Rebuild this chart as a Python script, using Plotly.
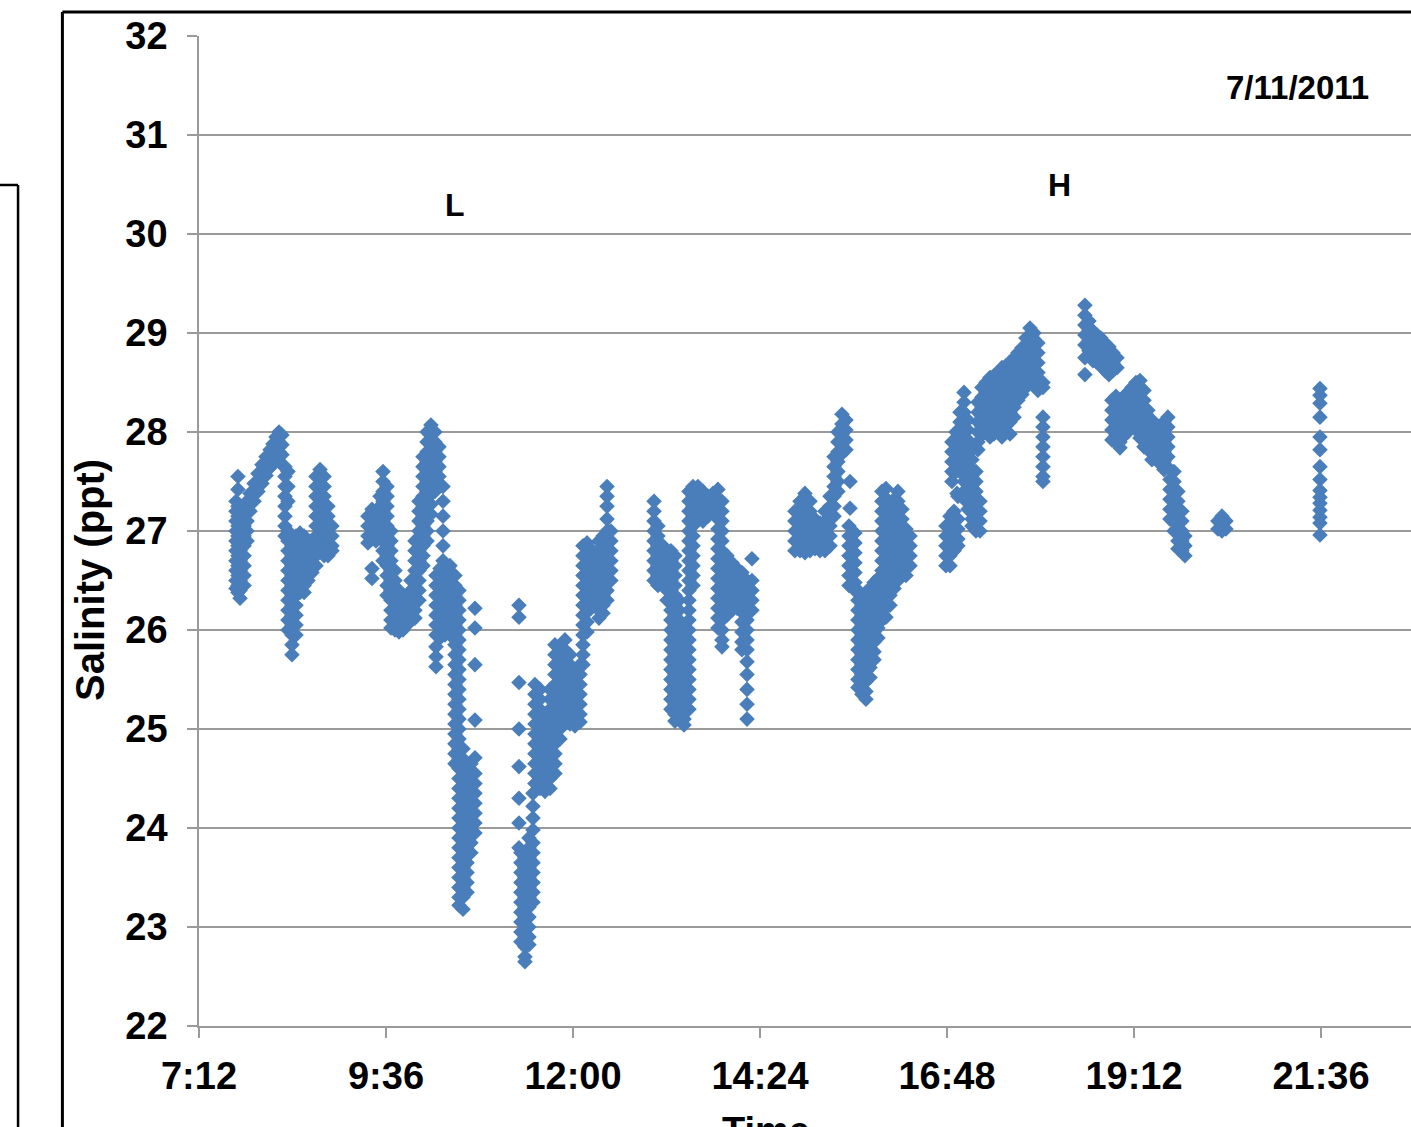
import plotly.graph_objects as go

# ---------------- data (time in minutes after midnight, salinity in ppt) ----------------
# Each cluster: sample times and, for each time, the salinity readings logged at that time.
c1_time = [460.5, 462.0, 463.6, 466.7, 469.0, 471.3, 474.4, 477.4, 480.5, 483.6, 486.7, 489.0,
           491.3, 493.6, 495.9, 498.2, 500.5, 503.6, 506.7, 509.8, 512.9, 515.9, 519.0, 522.1,
           525.2, 528.3, 531.3, 534.4]
c1_sal = [
    [27.3, 27.2, 27.1, 27.0, 26.9, 26.8, 26.7, 26.6, 26.5, 26.42],
    [27.55, 27.42, 27.25, 27.15, 27.05, 26.95, 26.85, 26.75, 26.65, 26.55, 26.45, 26.38],
    [27.2, 27.1, 27.0, 26.9, 26.8, 26.7, 26.6, 26.5, 26.4, 26.32],
    [27.15, 27.05, 26.95, 26.85, 26.75, 26.65, 26.55, 26.45],
    [27.3, 27.2, 27.1, 27.0, 26.9],
    [27.38, 27.28, 27.2],
    [27.48, 27.38, 27.3],
    [27.58, 27.48, 27.4],
    [27.67, 27.57, 27.48],
    [27.75, 27.65, 27.56],
    [27.82, 27.72, 27.64],
    [27.88, 27.78, 27.7],
    [27.95, 27.85, 27.76],
    [28.0, 27.9, 27.8],
    [27.97, 27.87, 27.77, 27.67],
    [27.65, 27.55, 27.45, 27.35, 27.25, 27.15, 27.05, 26.95],
    [27.6, 27.45, 27.3, 27.0, 26.9, 26.8, 26.7, 26.6, 26.5, 26.4, 26.3, 26.2, 26.1, 26.0],
    [26.95, 26.85, 26.75, 26.65, 26.55, 26.45, 26.35, 26.25, 26.15, 26.05, 25.95, 25.85, 25.75],
    [26.95, 26.85, 26.75, 26.65, 26.55, 26.45, 26.35, 26.25, 26.15, 26.05, 25.95],
    [26.98, 26.88, 26.78, 26.68, 26.58, 26.48, 26.38],
    [26.95, 26.85, 26.75, 26.65, 26.55, 26.45, 26.38],
    [26.9, 26.8, 26.7, 26.6, 26.5],
    [26.88, 26.78, 26.68, 26.58],
    [27.55, 27.45, 27.35, 27.25, 27.15, 27.05, 26.95, 26.85, 26.75, 26.65],
    [27.62, 27.52, 27.42, 27.32, 27.22, 27.12, 27.02, 26.92, 26.82],
    [27.55, 27.45, 27.35, 27.25, 27.15, 27.05, 26.95, 26.85, 26.75],
    [27.25, 27.15, 27.05, 26.95, 26.85, 26.75],
    [27.05, 26.95, 26.85, 26.8],
]

c2_time = [562.1, 565.2, 568.3, 571.4, 573.7, 576.8, 579.8, 582.9, 586.0, 589.1, 592.2, 595.2,
           598.3, 601.4, 604.5, 607.6, 610.6, 613.7, 614.5, 616.8, 617.6, 619.9, 621.4, 625.3,
           629.1, 632.2, 635.3, 638.4, 641.4, 644.5]
c2_sal = [
    [27.15, 27.05, 26.95, 26.88],
    [27.22, 27.12, 27.02, 26.92, 26.62, 26.52],
    [27.2, 27.1, 27.0, 26.9],
    [27.35, 27.25, 27.15, 27.05, 26.95],
    [27.6, 27.5, 27.4, 27.3, 27.2, 27.1, 27.0, 26.9, 26.8, 26.7],
    [27.45, 27.35, 27.25, 27.15, 27.05, 26.95, 26.85, 26.75, 26.65, 26.55, 26.45, 26.35],
    [27.0, 26.9, 26.8, 26.7, 26.6, 26.5, 26.4, 26.3, 26.2, 26.1, 26.02],
    [26.6, 26.5, 26.4, 26.3, 26.2, 26.1, 26.0],
    [26.4, 26.3, 26.2, 26.1, 25.98],
    [26.3, 26.2, 26.1, 26.0],
    [26.35, 26.25, 26.15, 26.05],
    [26.5, 26.4, 26.3, 26.2, 26.1],
    [26.9, 26.8, 26.7, 26.6, 26.5, 26.4, 26.3, 26.2, 26.12],
    [27.3, 27.2, 27.1, 27.0, 26.9, 26.8, 26.7, 26.6, 26.5, 26.4, 26.3],
    [27.75, 27.65, 27.55, 27.45, 27.35, 27.25, 27.15, 27.05, 26.95, 26.85, 26.75, 26.65],
    [28.0, 27.9, 27.8, 27.7, 27.6, 27.5, 27.4, 27.3, 27.2, 27.1, 27.0, 26.9],
    [28.07, 27.97, 27.87, 27.77, 27.67, 27.57, 27.47, 27.37, 27.27, 27.17],
    [28.0, 27.9, 27.8, 27.7, 27.6, 27.5, 27.4],
    [26.55, 26.45, 26.35, 26.25, 26.15, 26.05, 25.95, 25.83, 25.73, 25.63],
    [27.85, 27.75, 27.65, 27.55],
    [26.62, 26.52, 26.42, 26.32, 26.22, 26.12, 26.02, 25.92],
    [27.45, 27.3, 27.15, 27.0, 26.85, 26.7],
    [26.55, 26.45, 26.35, 26.25, 26.15, 26.05, 25.95],
    [26.65, 26.55, 26.45, 26.35, 26.25, 26.15, 26.05, 25.95],
    [26.55, 26.45, 26.35, 26.25, 26.15, 26.05, 25.95, 25.85, 25.75, 25.65, 25.55, 25.45, 25.35,
     25.25, 25.15, 25.05, 24.95, 24.85, 24.75, 24.65],
    [26.4, 26.3, 26.2, 26.1, 26.0, 25.9, 25.8, 25.7, 25.6, 25.5, 25.4, 25.3, 25.2, 25.1, 25.0,
     24.9, 24.8, 24.7, 24.6, 24.5, 24.4, 24.3, 24.2, 24.1, 24.0, 23.9, 23.8, 23.7, 23.6, 23.5,
     23.4, 23.3, 23.22],
    [24.8, 24.7, 24.6, 24.5, 24.4, 24.3, 24.2, 24.1, 24.0, 23.9, 23.8, 23.7, 23.6, 23.5, 23.4,
     23.3, 23.18],
    [24.55, 24.45, 24.35, 24.25, 24.15, 24.05, 23.95, 23.85, 23.75, 23.65, 23.55, 23.45, 23.35],
    [24.65, 24.55, 24.45, 24.35, 24.25, 24.15, 24.05, 23.95, 23.85, 23.75],
    [26.22, 26.02, 25.65, 25.09, 24.71, 24.55, 24.45, 24.35, 24.25, 24.15, 24.05, 23.95],
]

c3_time = [678.4, 679.9, 683.0, 686.1, 689.2, 690.7, 694.6, 698.4, 702.3, 706.1, 710.0, 713.8,
           717.7, 721.5, 725.4, 727.7, 730.8, 733.8, 736.9, 740.0, 743.1, 746.2, 749.2]
c3_sal = [
    [26.25, 26.13, 25.47, 25.0, 24.62, 24.3, 24.05, 23.8],
    [23.75, 23.65, 23.55, 23.45, 23.35, 23.25, 23.15, 23.05, 22.95, 22.85],
    [23.7, 23.6, 23.5, 23.4, 23.3, 23.2, 23.1, 23.0, 22.9, 22.8, 22.7, 22.65],
    [23.9, 23.8, 23.7, 23.6, 23.5, 23.4, 23.3, 23.2, 23.1, 23.0, 22.9, 22.82],
    [24.35, 24.22, 24.1, 23.98, 23.85, 23.75, 23.65, 23.55, 23.45, 23.35, 23.25],
    [25.45, 25.35, 25.25, 25.15, 25.05, 24.95, 24.85, 24.75, 24.65, 24.55, 24.45],
    [25.4, 25.3, 25.2, 25.1, 25.0, 24.9, 24.8, 24.7, 24.6, 24.5, 24.4],
    [25.15, 25.05, 24.95, 24.85, 24.75, 24.65, 24.55, 24.45, 24.37],
    [25.4, 25.3, 25.2, 25.1, 25.0, 24.9, 24.8, 24.7, 24.6, 24.5, 24.4],
    [25.85, 25.75, 25.65, 25.55, 25.45, 25.35, 25.25, 25.15, 25.05, 24.95, 24.85, 24.75, 24.65,
     24.55],
    [25.8, 25.7, 25.6, 25.5, 25.4, 25.3, 25.2, 25.1, 25.0, 24.9],
    [25.9, 25.8, 25.7, 25.6, 25.5, 25.4, 25.3, 25.2, 25.1],
    [25.75, 25.65, 25.55, 25.45, 25.35, 25.25, 25.15, 25.05],
    [25.6, 25.5, 25.4, 25.3, 25.2, 25.1, 25.03],
    [25.65, 25.55, 25.45, 25.35, 25.25, 25.15, 25.07],
    [26.85, 26.75, 26.65, 26.55, 26.45, 26.35, 26.25, 26.15, 26.05, 25.95, 25.85, 25.75, 25.65],
    [26.88, 26.78, 26.68, 26.58, 26.48, 26.38, 26.28, 26.18, 26.08, 25.98],
    [26.82, 26.72, 26.62, 26.52, 26.42, 26.32, 26.22],
    [26.75, 26.65, 26.55, 26.45, 26.35, 26.25],
    [26.9, 26.8, 26.7, 26.6, 26.5, 26.4, 26.3, 26.2, 26.12],
    [26.95, 26.85, 26.75, 26.65, 26.55, 26.45, 26.35, 26.25, 26.17],
    [27.45, 27.35, 27.25, 27.12, 27.0, 26.9, 26.8, 26.7, 26.6, 26.5, 26.4, 26.3],
    [27.0, 26.9, 26.8, 26.7, 26.6, 26.5],
]

c4_time = [782.4, 785.4, 789.3, 792.4, 795.4, 798.5, 801.6, 805.5, 809.3, 812.4, 816.2, 820.1,
           823.9, 827.8, 831.6, 834.7, 838.6, 842.4, 846.3, 850.1, 854.0, 857.8]
c4_sal = [
    [27.3, 27.2, 27.1, 27.0, 26.9, 26.8, 26.7, 26.6, 26.5],
    [27.05, 26.95, 26.85, 26.75, 26.65, 26.55, 26.45],
    [26.85, 26.75, 26.65, 26.55, 26.45],
    [26.8, 26.7, 26.6, 26.5, 26.4, 26.3],
    [26.8, 26.7, 26.6, 26.5, 26.4, 26.3, 26.2, 26.1, 26.0, 25.9, 25.8, 25.7, 25.6, 25.5, 25.4,
     25.3, 25.2],
    [26.75, 26.65, 26.55, 26.45, 26.35, 26.25, 26.15, 26.05, 25.95, 25.85, 25.75, 25.65, 25.55,
     25.45, 25.35, 25.25, 25.15, 25.08],
    [26.3, 26.2, 26.1, 26.0, 25.9, 25.8, 25.7, 25.6, 25.5, 25.4, 25.3, 25.2, 25.1],
    [26.0, 25.9, 25.8, 25.7, 25.6, 25.5, 25.4, 25.3, 25.2, 25.1, 25.04],
    [27.4, 27.3, 27.2, 27.1, 27.0, 26.9, 26.8, 26.7, 26.6, 26.5, 26.4, 26.3, 26.2, 26.1, 26.0,
     25.9, 25.8, 25.7, 25.6, 25.5, 25.4, 25.3, 25.2],
    [27.45, 27.35, 27.25, 27.15, 27.05, 26.95, 26.85, 26.75, 26.65, 26.55, 26.45],
    [27.45, 27.35, 27.25, 27.15],
    [27.4, 27.3, 27.2, 27.1],
    [27.35, 27.25, 27.15],
    [27.38, 27.28, 27.18],
    [27.42, 27.32, 27.22, 27.12, 27.02, 26.92, 26.82, 26.72, 26.62, 26.52, 26.42, 26.32, 26.22,
     26.12, 26.02],
    [27.3, 27.2, 27.1, 27.0, 26.9, 26.8, 26.7, 26.6, 26.5, 26.4, 26.3, 26.2, 26.1, 26.0, 25.9,
     25.83],
    [26.75, 26.65, 26.55, 26.45, 26.35, 26.25, 26.15],
    [26.68, 26.58, 26.48, 26.38, 26.28, 26.2],
    [26.62, 26.52, 26.42, 26.32, 26.22],
    [26.58, 26.48, 26.38, 26.28, 26.18, 26.08, 25.98, 25.88, 25.8],
    [26.5, 26.4, 26.3, 26.2, 26.1, 26.0, 25.9, 25.8, 25.68, 25.55, 25.4, 25.25, 25.1],
    [26.72, 26.5, 26.4, 26.3, 26.2],
]

c5_time = [890.9, 894.8, 898.6, 902.5, 906.3, 910.2, 914.0, 917.9, 921.0, 924.0, 927.1, 930.2,
           932.5, 933.3, 937.1, 939.4, 942.5, 945.6, 948.7, 951.8, 954.8, 957.9, 961.0, 964.1,
           967.2, 970.2, 973.3, 976.4, 979.5]
c5_sal = [
    [27.2, 27.1, 27.0, 26.9, 26.8],
    [27.3, 27.2, 27.1, 27.0, 26.9, 26.8],
    [27.38, 27.28, 27.18, 27.08, 26.98, 26.88, 26.78],
    [27.3, 27.2, 27.1, 27.0, 26.9, 26.8],
    [27.12, 27.02, 26.92, 26.82],
    [27.08, 26.98, 26.88, 26.8],
    [27.2, 27.1, 27.0, 26.9, 26.8],
    [27.35, 27.25, 27.15, 27.05, 26.95, 26.85],
    [27.75, 27.65, 27.55, 27.45, 27.35, 27.25, 27.15],
    [28.0, 27.9, 27.8, 27.7, 27.6, 27.5, 27.4],
    [28.18, 28.08, 27.98, 27.88, 27.78],
    [28.12, 28.02, 27.92, 27.82],
    [27.05, 26.95, 26.85, 26.75, 26.65, 26.55, 26.45],
    [27.5, 27.23],
    [26.98, 26.88, 26.78, 26.68, 26.58, 26.48, 26.4],
    [26.4, 26.3, 26.2, 26.1, 26.0, 25.9, 25.8, 25.7, 25.6, 25.5, 25.42],
    [26.35, 26.25, 26.15, 26.05, 25.95, 25.85, 25.75, 25.65, 25.55, 25.45, 25.35],
    [26.38, 26.28, 26.18, 26.08, 25.98, 25.88, 25.78, 25.68, 25.58, 25.48, 25.38, 25.3],
    [26.42, 26.32, 26.22, 26.12, 26.02, 25.92, 25.82, 25.72, 25.62, 25.52],
    [26.48, 26.38, 26.28, 26.18, 26.08, 25.98, 25.88, 25.78, 25.7],
    [26.52, 26.42, 26.32, 26.22, 26.12, 26.02, 25.92],
    [27.4, 27.3, 27.2, 27.1, 27.0, 26.9, 26.8, 26.7, 26.6, 26.5, 26.4, 26.3, 26.2, 26.1],
    [27.43, 27.33, 27.23, 27.13, 27.03, 26.93, 26.83, 26.73, 26.63, 26.53, 26.43, 26.33, 26.23,
     26.13],
    [27.25, 27.15, 27.05, 26.95, 26.85, 26.75, 26.65, 26.55, 26.45, 26.35, 26.25],
    [27.32, 27.22, 27.12, 27.02, 26.92, 26.82, 26.72, 26.62, 26.52, 26.42],
    [27.4, 27.3, 27.2, 27.1, 27.0, 26.9, 26.8, 26.7, 26.6, 26.5],
    [27.22, 27.12, 27.02, 26.92, 26.82, 26.72, 26.62],
    [27.02, 26.92, 26.82, 26.72, 26.62, 26.55],
    [26.95, 26.85, 26.75, 26.65],
]

c6_time = [1007.2, 1010.3, 1011.8, 1013.4, 1014.9, 1015.7, 1016.4, 1018.0, 1021.1, 1024.1,
           1027.2, 1030.3, 1031.8, 1033.4, 1034.9, 1038.0, 1041.1, 1044.2, 1047.2, 1050.3,
           1053.4, 1056.5, 1059.6, 1062.6, 1065.7, 1068.8, 1071.9, 1075.0, 1078.0, 1081.9]
c6_sal = [
    [27.05, 26.95, 26.85, 26.75, 26.65],
    [27.15, 27.05, 26.95, 26.85, 26.75, 26.65],
    [27.9, 27.8, 27.7, 27.6, 27.5],
    [27.2, 27.1, 27.0, 26.9, 26.8],
    [28.0, 27.9, 27.8, 27.7, 27.6],
    [27.38],
    [27.35, 27.12, 27.02, 26.92, 26.85],
    [28.2, 28.1, 28.0, 27.9, 27.8, 27.7, 27.6],
    [28.4, 28.3, 28.2, 28.1, 28.0, 27.9, 27.8, 27.7, 27.6, 27.5, 27.4, 27.32],
    [28.12, 28.02, 27.92, 27.82, 27.72, 27.62, 27.52, 27.42, 27.32, 27.22],
    [27.82, 27.72, 27.62, 27.52, 27.42, 27.32, 27.22, 27.12, 27.05],
    [27.6, 27.5, 27.4, 27.3, 27.2, 27.1, 27.0],
    [28.3, 28.2, 28.1, 28.0, 27.9, 27.82],
    [27.3, 27.2, 27.1, 27.0],
    [28.45, 28.35, 28.25, 28.15, 28.05, 27.97],
    [28.5, 28.4, 28.3, 28.2, 28.1, 28.0],
    [28.55, 28.45, 28.35, 28.25, 28.15, 28.05, 27.95],
    [28.57, 28.47, 28.37, 28.27, 28.17, 28.07, 27.98],
    [28.6, 28.5, 28.4, 28.3, 28.2, 28.1, 28.02],
    [28.65, 28.55, 28.45, 28.35, 28.25, 28.15, 28.05, 27.95],
    [28.67, 28.57, 28.47, 28.37, 28.27, 28.17, 28.07],
    [28.7, 28.6, 28.5, 28.4, 28.3, 28.2, 28.1, 27.98],
    [28.75, 28.65, 28.55, 28.45, 28.35, 28.25, 28.15],
    [28.8, 28.7, 28.6, 28.5, 28.4, 28.32],
    [28.85, 28.75, 28.65, 28.55, 28.45, 28.38],
    [28.95, 28.85, 28.75, 28.65, 28.55, 28.45],
    [29.05, 28.95, 28.85, 28.75, 28.65, 28.55],
    [29.0, 28.9, 28.8, 28.7, 28.6, 28.5],
    [28.9, 28.8, 28.7, 28.6, 28.5, 28.42],
    [28.5, 28.45, 28.15, 28.05, 27.95, 27.85, 27.75, 27.65, 27.55, 27.5],
]

c7_time = [1114.2, 1117.3, 1120.4, 1123.5, 1126.5, 1129.6, 1132.7, 1135.0, 1135.8, 1138.1,
           1138.9, 1141.2, 1144.3, 1147.3, 1150.4, 1153.5, 1156.6, 1159.7, 1162.7, 1165.8,
           1168.9, 1172.0, 1175.1, 1178.1, 1179.7, 1182.8, 1185.8, 1188.9, 1191.2]
c7_sal = [
    [29.28, 29.18, 29.08, 28.98, 28.88, 28.75, 28.58],
    [29.12, 29.02, 28.92, 28.82],
    [29.02, 28.92, 28.82, 28.72],
    [28.98, 28.88, 28.78, 28.7],
    [28.95, 28.85, 28.75, 28.67],
    [28.9, 28.8, 28.7, 28.62],
    [28.86, 28.76, 28.66, 28.58],
    [28.32, 28.22, 28.12, 28.02, 27.92],
    [28.8, 28.7, 28.62],
    [28.36, 28.26, 28.16, 28.06, 27.96, 27.9],
    [28.75, 28.65],
    [28.3, 28.2, 28.1, 28.0, 27.9, 27.84],
    [28.36, 28.26, 28.16, 28.06, 27.96],
    [28.4, 28.3, 28.2, 28.1, 28.0],
    [28.45, 28.35, 28.25, 28.15, 28.05],
    [28.5, 28.4, 28.3, 28.2, 28.1, 28.02],
    [28.52, 28.42, 28.32, 28.22, 28.12, 28.02, 27.94],
    [28.42, 28.32, 28.22, 28.12, 28.02, 27.92, 27.85],
    [28.22, 28.12, 28.02, 27.92, 27.82],
    [28.12, 28.02, 27.92, 27.82, 27.72],
    [28.02, 27.92, 27.82, 27.74],
    [28.06, 27.96, 27.86, 27.76, 27.68],
    [28.1, 28.0, 27.9, 27.8, 27.7, 27.62],
    [28.15, 28.05, 27.95, 27.85, 27.75],
    [27.62, 27.52, 27.42, 27.32, 27.22, 27.12],
    [27.6, 27.5, 27.4, 27.3, 27.2, 27.1, 27.0],
    [27.4, 27.3, 27.2, 27.1, 27.0, 26.9, 26.82],
    [27.2, 27.1, 27.0, 26.9, 26.8],
    [26.95, 26.85, 26.75],
]

c8_time = [1216.6, 1219.7, 1222.8]
c8_sal = [[27.1, 27.02], [27.15, 27.1, 27.05, 27.0], [27.1, 27.02]]

c9_time = [1295.2]
c9_sal = [[28.44, 28.37, 28.29, 28.15, 27.95, 27.82, 27.65, 27.52, 27.41, 27.34, 27.28,
           27.21, 27.14, 27.08, 26.96]]

tick_minutes = [432, 576, 720, 864, 1008, 1152, 1296]
tick_labels = ["7:12", "9:36", "12:00", "14:24", "16:48", "19:12", "21:36"]
y_ticks = [22, 23, 24, 25, 26, 27, 28, 29, 30, 31, 32]

# ---------------- build points ----------------
xs, ys = [], []
for times, sals in [(c1_time, c1_sal), (c2_time, c2_sal), (c3_time, c3_sal), (c4_time, c4_sal),
                    (c5_time, c5_sal), (c6_time, c6_sal), (c7_time, c7_sal), (c8_time, c8_sal),
                    (c9_time, c9_sal)]:
    for t, col in zip(times, sals):
        for s in col:
            xs.append(t)
            ys.append(s)

BLUE = "#4A7EBB"
GRID = "#9a9a9a"
FONT = "Liberation Sans, Arial, sans-serif"

fig = go.Figure()
fig.add_trace(go.Scatter(
    x=xs, y=ys, mode="markers",
    marker=dict(symbol="diamond", size=12, color=BLUE, line=dict(width=0)),
    showlegend=False, hoverinfo="skip",
))

fig.update_layout(
    width=1411, height=1127,
    margin=dict(l=199, r=0, t=36, b=101),
    paper_bgcolor="white", plot_bgcolor="white",
    font=dict(family=FONT, color="black"),
    xaxis=dict(
        range=[432, 1365.3], tickmode="array", tickvals=tick_minutes, ticktext=tick_labels,
        showgrid=False, zeroline=False, showline=True, linecolor=GRID, linewidth=1.5,
        ticks="outside", ticklen=10, tickcolor=GRID, tickwidth=1.5,
        tickfont=dict(size=38, family=FONT, weight="bold"), ticklabelstandoff=6,
    ),
    yaxis=dict(
        range=[22, 32], tickmode="array", tickvals=y_ticks,
        showgrid=True, gridcolor=GRID, gridwidth=1.5, zeroline=False,
        showline=True, linecolor=GRID, linewidth=1.5,
        ticks="outside", ticklen=10, tickcolor=GRID, tickwidth=1.5,
        tickfont=dict(size=38, family=FONT, weight="bold"), ticklabelstandoff=12,
    ),
)

# Y title, x title (partially cut off), and labels inside plot
fig.add_annotation(text="Salinity (ppt)", xref="paper", yref="paper", x=-0.0899, y=0.4505,
                   textangle=-90, showarrow=False, xanchor="center", yanchor="middle",
                   font=dict(size=40, family=FONT, weight="bold"))
fig.add_annotation(text="Time", xref="paper", yref="paper", x=0.468, y=-0.0828,
                   showarrow=False, xanchor="center", yanchor="top",
                   font=dict(size=38, family=FONT, weight="bold"))
fig.add_annotation(text="L", xref="x", yref="y", x=629.1, y=30.29, showarrow=False,
                   font=dict(size=32, family=FONT, weight="bold"))
fig.add_annotation(text="H", xref="x", yref="y", x=1095.0, y=30.5, showarrow=False,
                   font=dict(size=32, family=FONT, weight="bold"))
fig.add_annotation(text="7/11/2011", xref="x", yref="y", x=1278.0, y=31.48, showarrow=False,
                   font=dict(size=33, family=FONT, weight="bold"))

# Outer chart frame (black) and the neighbouring panel's edge on the far left
fig.add_shape(type="line", xref="paper", yref="paper", x0=-0.1127, x1=1.05, y0=1.0242, y1=1.0242,
              line=dict(color="black", width=3))
fig.add_shape(type="line", xref="paper", yref="paper", x0=-0.1127, x1=-0.1127, y0=1.0242, y1=-0.2,
              line=dict(color="black", width=3))
fig.add_shape(type="line", xref="paper", yref="paper", x0=-0.1493, x1=-0.1493, y0=0.8495, y1=-0.2,
              line=dict(color="black", width=2.5))
fig.add_shape(type="line", xref="paper", yref="paper", x0=-0.17, x1=-0.1493, y0=0.8495, y1=0.8495,
              line=dict(color="black", width=2.5))

fig.write_html("out.html", config={"displayModeBar": False},
               post_script="document.body.style.margin='0px';")
